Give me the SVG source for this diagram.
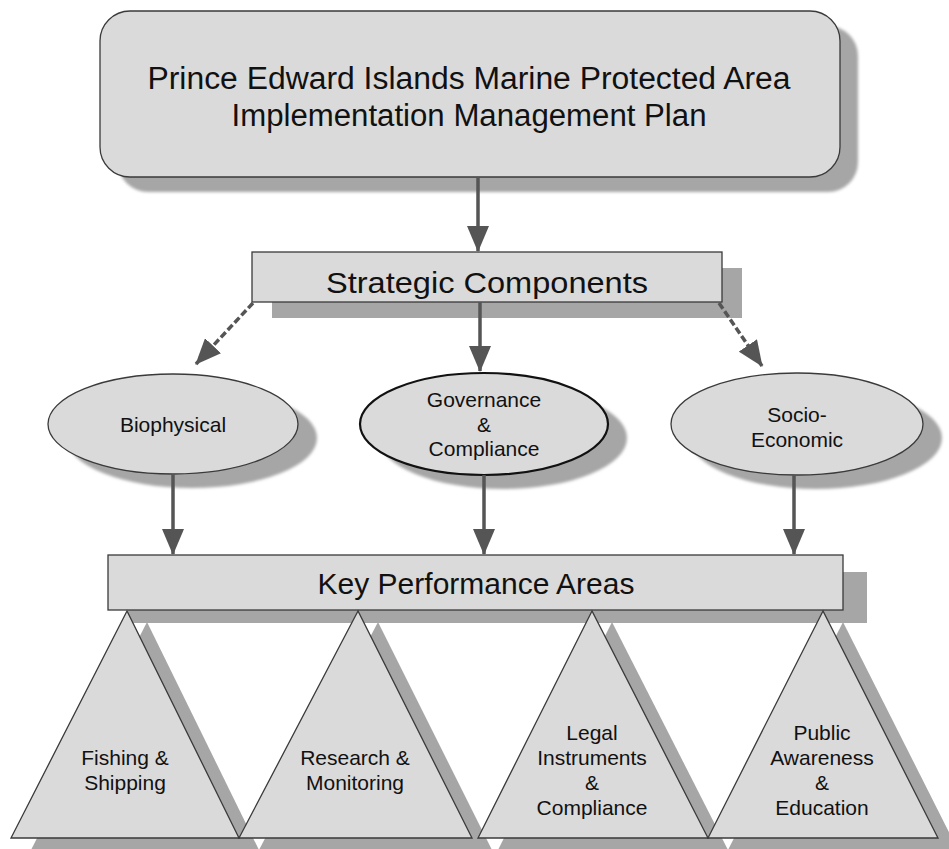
<svg xmlns="http://www.w3.org/2000/svg" width="949" height="849" viewBox="0 0 949 849">
<defs>
<style>
.shadow{fill:#a6a6a6;}
.box{fill:#dadada;stroke:#3a3a3a;stroke-width:1.3;}
.t{font-family:"Liberation Sans",Arial,sans-serif;fill:#111;text-anchor:middle;}
.big{font-size:31px;}
.mid{font-size:30px;}
.small{font-size:21px;}
.arrow{stroke:#555;stroke-width:3.5;fill:none;}
.dash{stroke-dasharray:7 3;}
</style>
<marker id="ah" viewBox="0 0 26 22" refX="25" refY="11" markerWidth="26" markerHeight="22" markerUnits="userSpaceOnUse" orient="auto">
<path d="M0,0 L26,11 L0,22 Z" fill="#555"/>
</marker>
<filter id="soft" x="-10%" y="-10%" width="120%" height="120%"><feGaussianBlur stdDeviation="1.5"/></filter>
</defs>
<rect width="949" height="849" fill="#ffffff"/>

<g id="plan">
<rect class="shadow" filter="url(#soft)" x="118" y="26" width="740" height="166" rx="30"/>
<rect class="box" x="100" y="11" width="740" height="166" rx="30"/>
<text class="t big" x="469" y="89" textLength="643" lengthAdjust="spacingAndGlyphs">Prince Edward Islands Marine Protected Area</text>
<text class="t big" x="469" y="126" textLength="475" lengthAdjust="spacingAndGlyphs">Implementation Management Plan</text>
</g>

<g id="strategic">
<rect class="shadow" x="272" y="268" width="470" height="50"/>
<rect class="box" x="252" y="252" width="470" height="50"/>
<text class="t mid" x="487" y="293" textLength="322" lengthAdjust="spacingAndGlyphs">Strategic Components</text>
</g>

<g id="biophysical">
<ellipse class="shadow" filter="url(#soft)" cx="192" cy="438" rx="125" ry="50"/>
<ellipse class="box" cx="173" cy="424" rx="125" ry="50"/>
<text class="t small" x="173" y="432">Biophysical</text>
</g>

<g id="governance">
<ellipse class="shadow" filter="url(#soft)" cx="503" cy="438" rx="124" ry="51"/>
<ellipse class="box" cx="484" cy="424" rx="124" ry="51" style="stroke:#111;stroke-width:2.2"/>
<text class="t small" x="484" y="407">Governance</text>
<text class="t small" x="484" y="432">&amp;</text>
<text class="t small" x="484" y="456">Compliance</text>
</g>

<g id="socio">
<ellipse class="shadow" filter="url(#soft)" cx="816" cy="438" rx="126" ry="51"/>
<ellipse class="box" cx="797" cy="424" rx="126" ry="51"/>
<text class="t small" x="797" y="422">Socio-</text>
<text class="t small" x="797" y="447">Economic</text>
</g>

<g id="kpa">
<rect class="shadow" x="128" y="572" width="739" height="51"/>
<rect class="box" x="108" y="555" width="735" height="55"/>
<text class="t mid" x="476" y="594">Key Performance Areas</text>
</g>

<g id="fishing">
<polygon class="shadow" points="147,622 31,850 259,850"/>
<polygon class="box" points="127,611 11,838 239,838"/>
<text class="t small" x="125" y="765">Fishing &amp;</text>
<text class="t small" x="125" y="790">Shipping</text>
</g>

<g id="research">
<polygon class="shadow" points="378,622 259,850 492,850"/>
<polygon class="box" points="358,611 239,838 472,838"/>
<text class="t small" x="355" y="765">Research &amp;</text>
<text class="t small" x="355" y="790">Monitoring</text>
</g>

<g id="legal">
<polygon class="shadow" points="612,622 498,850 728,850"/>
<polygon class="box" points="592,611 478,838 708,838"/>
<text class="t small" x="592" y="740">Legal</text>
<text class="t small" x="592" y="765">Instruments</text>
<text class="t small" x="592" y="790">&amp;</text>
<text class="t small" x="592" y="815">Compliance</text>
</g>

<g id="public">
<polygon class="shadow" points="843,622 728,850 958,850"/>
<polygon class="box" points="823,611 708,838 938,838"/>
<text class="t small" x="822" y="740">Public</text>
<text class="t small" x="822" y="765">Awareness</text>
<text class="t small" x="822" y="790">&amp;</text>
<text class="t small" x="822" y="815">Education</text>
</g>

<g id="connectors">
<line class="arrow" x1="478" y1="177" x2="478" y2="251" marker-end="url(#ah)"/>
<line class="arrow dash" x1="253" y1="303" x2="196" y2="364" marker-end="url(#ah)"/>
<line class="arrow" x1="480" y1="302" x2="480" y2="371" marker-end="url(#ah)"/>
<line class="arrow dash" x1="719" y1="303" x2="762" y2="366" marker-end="url(#ah)"/>
<line class="arrow" x1="173" y1="474" x2="173" y2="554" marker-end="url(#ah)"/>
<line class="arrow" x1="484" y1="475" x2="484" y2="554" marker-end="url(#ah)"/>
<line class="arrow" x1="794" y1="475" x2="794" y2="554" marker-end="url(#ah)"/>
</g>
</svg>
